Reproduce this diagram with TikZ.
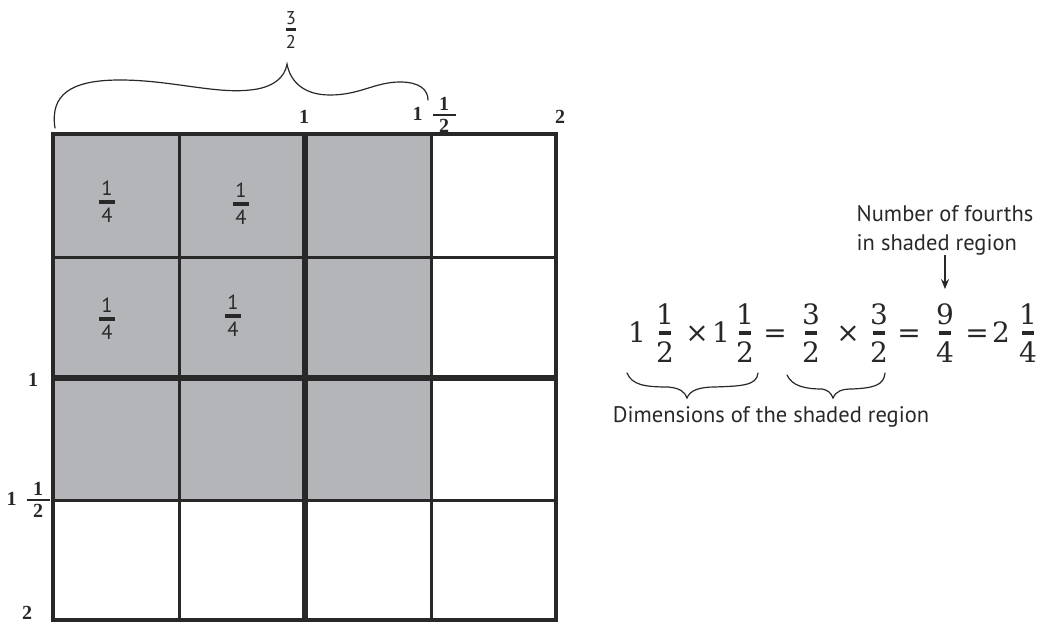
\documentclass[tikz,border=0pt]{standalone}
\usepackage{fontspec}
\setsansfont{PT Sans}
\newfontfamily\labelfont{Liberation Serif}
\newfontfamily\eqfont{DejaVu Serif}
\usetikzlibrary{arrows.meta}

\definecolor{gridline}{RGB}{40,40,40}
\definecolor{shadegray}{RGB}{180,181,185}

% bar width, bar thickness, gap, numerator, denominator
\newcommand{\stackfrac}[5]{\vbox{\offinterlineskip\halign{\hfil##\hfil\cr#4\cr\noalign{\kern#3}\rule{#1}{#2}\cr\noalign{\kern#3}#5\cr}}}
\newcommand{\cellfrac}[2]{\stackfrac{16pt}{3.3pt}{4.5pt}{#1}{#2}}
\newcommand{\eqfrac}[2]{\stackfrac{12pt}{4.5pt}{6.5pt}{#1}{#2}}
\newcommand{\axishalf}{1\hspace{10pt}$\vcenter{\stackfrac{23pt}{1.2pt}{3.5pt}{1}{2}}$}

\begin{document}
\begin{tikzpicture}[x=1pt, y=-1pt,
        thinrule/.style={gridline, line width=3pt},
        thickrule/.style={gridline, line width=5.5pt},
        quarter/.style={font=\sffamily\fontsize{20.5}{24}\selectfont, text=gridline, inner sep=0pt},
        axislabel/.style={font=\labelfont\bfseries\fontsize{20}{24}\selectfont, text=gridline, inner sep=0pt},
        eqpart/.style={font=\eqfont\fontsize{28}{32}\selectfont, text=gridline, inner sep=0pt, anchor=base},
        eqfraction/.style={eqpart, anchor=center},
        note/.style={font=\sffamily\fontsize{22.5}{29}\selectfont, text=gridline, inner sep=0pt, align=left},
        curly/.style={gridline, line width=1.2pt, line cap=round}]

        \useasboundingbox (0,0) rectangle (1038,623);

        % Shaded region
        \fill[shadegray] (53,134) rectangle (431,500);

        % Grid
        \draw[thinrule] (179,134) -- (179,620);
        \draw[thinrule] (431,134) -- (431,620);
        \draw[thinrule] (53,257) -- (556,257);
        \draw[thinrule] (53,500) -- (556,500);
        \draw[thickrule] (305,134) -- (305,620);
        \draw[thickrule] (53,378) -- (556,378);
        \draw[thinrule, line width=3.5pt] (53,134) rectangle (556,620);

        % Fourths
        \node[quarter] (q11) at (107,202) {\cellfrac{1}{4}};
        \node[quarter] (q12) at (241,204) {\cellfrac{1}{4}};
        \node[quarter] (q21) at (107,319) {\cellfrac{1}{4}};
        \node[quarter] (q22) at (233,316) {\cellfrac{1}{4}};

        % Side labels
        \node[axislabel] (top1) at (304,117) {1};
        \node[axislabel] (toph) at (434,115) {\axishalf};
        \node[axislabel] (top2) at (560,117) {2};
        \node[axislabel] (left1) at (33,380) {1};
        \node[axislabel] (lefth) at (28,500) {\axishalf};
        \node[axislabel] (left2) at (27,613) {2};

        % Width of the shaded region
        \node[quarter, font=\sffamily\fontsize{18.5}{22}\selectfont] (width) at (291,30) {\stackfrac{10pt}{3pt}{4pt}{3}{2}};
        \draw[curly] (55,128) .. controls (50,95) and (70,80) .. (120,80)
            .. controls (170,80) and (215,94) .. (250,90)
            .. controls (272,88) and (285,78) .. (287,64)
            .. controls (290,80) and (302,95) .. (330,95)
            .. controls (360,95) and (375,82) .. (400,82)
            .. controls (420,82) and (428,90) .. (428,100);

        % Equation
        \node[eqpart] (w1) at (637,342) {1};
        \node[eqfraction] (f1) at (665,333) {\eqfrac{1}{2}};
        \node[eqpart] (x1) at (697,342) {×};
        \node[eqpart] (w2) at (721,342) {1};
        \node[eqfraction] (f2) at (745,333) {\eqfrac{1}{2}};
        \node[eqpart] (e1) at (775,342) {=};
        \node[eqfraction] (f3) at (811,333) {\eqfrac{3}{2}};
        \node[eqpart] (x2) at (848,342) {×};
        \node[eqfraction] (f4) at (879,333) {\eqfrac{3}{2}};
        \node[eqpart] (e2) at (909,342) {=};
        \node[eqfraction] (f5) at (945,333) {\eqfrac{9}{4}};
        \node[eqpart] (e3) at (977,342) {=};
        \node[eqpart] (w3) at (1001,342) {2};
        \node[eqfraction] (f6) at (1028,333) {\eqfrac{1}{4}};

        % Notes
        \node[note, anchor=north] (fourths) at (945,205) {Number of fourths\\in shaded region};
        \draw[gridline, line width=1.2pt, -{Stealth[length=10pt, width=8pt]}, shorten >=14pt]
            (fourths.south) -- (fourths.south |- f5.north);
        \node[note, anchor=base] (dims) at (771,422) {Dimensions of the shaded region};

        % Braces under the equation
        \draw[curly] (627,373) .. controls (632,385) and (645,387) .. (668,387)
            .. controls (680,388) and (685,392) .. (687,398)
            .. controls (690,390) and (700,387) .. (715,387)
            .. controls (740,386) and (757,386) .. (758,373);
        \draw[curly] (787,375) .. controls (792,386) and (805,389) .. (822,389)
            .. controls (828,390) and (831,393) .. (833,398)
            .. controls (836,391) and (842,389) .. (852,389)
            .. controls (872,388) and (884,386) .. (885,373);
\end{tikzpicture}
\end{document}
